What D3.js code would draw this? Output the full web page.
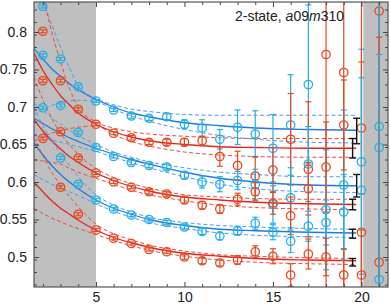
<!DOCTYPE html>
<html>
<head>
<meta charset="utf-8">
<script src="https://cdn.jsdelivr.net/npm/d3@7"></script>
<style>
  body { margin: 0; background: #fff; }
  svg { display: block; font-family: "Liberation Sans", Arial, sans-serif; }
</style>
</head>
<body>
<svg id="chart"></svg>
<script>
// time slices of the data points
const tSlices = [2, 3, 4, 5, 6, 7, 8, 9, 10, 11, 12, 13, 14, 15, 16, 17, 18, 19, 20, 21];

// effective energies, three blue and three red channels (top to bottom)
const blue1 = [0.834, 0.764, 0.727, 0.708, 0.696, 0.688, 0.685, 0.687, 0.677, 0.672, 0.657, 0.673, 0.664, 0.645, 0.676, 0.730, null, null, null, 0.674];
const blue1Err = [0.002, 0.002, 0.002, 0.002, 0.002, 0.003, 0.003, 0.004, 0.006, 0.011, 0.013, 0.023, 0.031, 0.045, 0.067, 0.106, null, null, null, 0.3];
const red1 = [0.801, 0.735, 0.697, 0.677, 0.665, 0.659, 0.653, 0.653, 0.653, 0.655, 0.634, 0.622, 0.608, 0.616, 0.657, 0.617, 0.770, 0.746, 0.672, 0.828];
const red1Err = [0.002, 0.002, 0.002, 0.002, 0.002, 0.003, 0.003, 0.004, 0.005, 0.006, 0.013, 0.019, 0.026, 0.03, 0.061, 0.09, 0.4, 0.3, 0.088, 0.5];
const blue2 = [0.769, 0.702, 0.666, 0.646, 0.634, 0.626, 0.622, 0.620, 0.609, 0.600, 0.597, 0.602, 0.597, 0.570, 0.579, 0.624, 0.563, 0.596, 0.627, 0.646];
const blue2Err = [0.002, 0.002, 0.002, 0.002, 0.002, 0.003, 0.003, 0.004, 0.005, 0.008, 0.010, 0.012, 0.02, 0.025, 0.04, 0.05, 0.08, 0.1, 0.15, 0.35];
const red2 = [0.735, 0.667, 0.632, 0.612, 0.600, 0.593, 0.587, 0.584, 0.576, 0.569, 0.564, 0.577, 0.587, 0.572, 0.555, 0.591, 0.620, 0.676, 0.533, 0.493];
const red2Err = [0.002, 0.002, 0.002, 0.002, 0.002, 0.002, 0.003, 0.003, 0.004, 0.005, 0.006, 0.008, 0.012, 0.015, 0.025, 0.035, 0.06, 0.06, 0.4, 0.3];
const blue3 = [0.699, 0.632, 0.597, 0.576, 0.564, 0.556, 0.550, 0.546, 0.540, 0.534, 0.528, 0.535, 0.545, 0.533, 0.521, 0.541, 0.546, 0.560, 0.589, 0.470];
const blue3Err = [0.002, 0.002, 0.002, 0.002, 0.002, 0.002, 0.002, 0.003, 0.003, 0.004, 0.005, 0.006, 0.008, 0.01, 0.015, 0.02, 0.03, 0.05, 0.15, 0.3];
const red3 = [0.658, 0.593, 0.557, 0.536, 0.525, 0.518, 0.510, 0.507, 0.500, 0.495, 0.492, 0.496, 0.507, 0.501, 0.476, 0.504, 0.500, 0.476, 0.476, null];
const red3Err = [0.002, 0.002, 0.002, 0.002, 0.002, 0.002, 0.002, 0.002, 0.003, 0.004, 0.004, 0.006, 0.008, 0.01, 0.015, 0.02, 0.025, 0.035, 0.06, null];

// 2-state fit curves, sampled
const fitT = [1.5, 2, 2.5, 3, 3.5, 4, 5, 6, 7, 8, 10, 12, 14, 17, 19.7];
const blue1Fit = [0.778, 0.764, 0.751, 0.741, 0.731, 0.723, 0.710, 0.700, 0.692, 0.687, 0.679, 0.675, 0.672, 0.670, 0.669];
const blue1Hi = [0.900, 0.845, 0.810, 0.780, 0.752, 0.728, 0.711, 0.703, 0.697, 0.694, 0.690, 0.689, 0.689, 0.689, 0.689];
const blue1Lo = [0.690, 0.697, 0.702, 0.706, 0.708, 0.709, 0.707, 0.697, 0.688, 0.681, 0.670, 0.662, 0.657, 0.653, 0.652];
const red1Fit = [0.772, 0.749, 0.731, 0.715, 0.703, 0.692, 0.677, 0.667, 0.660, 0.655, 0.650, 0.647, 0.646, 0.645, 0.645];
const red1Hi = [0.920, 0.850, 0.800, 0.760, 0.725, 0.700, 0.680, 0.672, 0.667, 0.664, 0.661, 0.659, 0.658, 0.658, 0.658];
const red1Lo = [0.654, 0.660, 0.665, 0.668, 0.671, 0.673, 0.675, 0.663, 0.654, 0.648, 0.640, 0.636, 0.634, 0.633, 0.633];
const blue2Fit = [0.685, 0.678, 0.671, 0.665, 0.659, 0.654, 0.645, 0.637, 0.630, 0.624, 0.613, 0.605, 0.600, 0.596, 0.595];
const blue2Hi = [0.705, 0.695, 0.686, 0.677, 0.669, 0.662, 0.650, 0.640, 0.633, 0.627, 0.619, 0.613, 0.610, 0.607, 0.607];
const blue2Lo = [0.662, 0.659, 0.656, 0.653, 0.650, 0.647, 0.641, 0.633, 0.626, 0.619, 0.607, 0.597, 0.591, 0.587, 0.586];
const red2Fit = [0.683, 0.668, 0.655, 0.644, 0.634, 0.626, 0.612, 0.602, 0.594, 0.588, 0.580, 0.576, 0.573, 0.571, 0.570];
const red2Hi = [0.740, 0.710, 0.685, 0.665, 0.650, 0.637, 0.618, 0.606, 0.598, 0.592, 0.583, 0.580, 0.578, 0.577, 0.577];
const red2Lo = [0.630, 0.628, 0.626, 0.624, 0.618, 0.613, 0.605, 0.597, 0.589, 0.583, 0.575, 0.569, 0.566, 0.564, 0.563];
const blue3Fit = [0.652, 0.636, 0.622, 0.610, 0.600, 0.591, 0.576, 0.565, 0.557, 0.550, 0.542, 0.537, 0.535, 0.533, 0.532];
const blue3Hi = [0.700, 0.675, 0.655, 0.638, 0.622, 0.607, 0.583, 0.569, 0.560, 0.553, 0.546, 0.542, 0.540, 0.538, 0.537];
const blue3Lo = [0.610, 0.603, 0.597, 0.592, 0.587, 0.582, 0.571, 0.561, 0.553, 0.546, 0.538, 0.532, 0.529, 0.527, 0.526];
const red3Fit = [0.600, 0.587, 0.575, 0.565, 0.557, 0.549, 0.536, 0.526, 0.519, 0.513, 0.505, 0.501, 0.498, 0.496, 0.495];
const red3Hi = [0.660, 0.635, 0.613, 0.596, 0.581, 0.567, 0.544, 0.531, 0.523, 0.516, 0.508, 0.503, 0.501, 0.499, 0.498];
const red3Lo = [0.565, 0.558, 0.552, 0.547, 0.542, 0.538, 0.530, 0.522, 0.515, 0.509, 0.501, 0.496, 0.493, 0.491, 0.490];

// ground state energies from the fit (black bars)
const groundT = [19.73, 19.5, 19.73, 19.5, 19.5, 19.5];
const groundE = [0.668, 0.645, 0.595, 0.570, 0.531, 0.493];
const groundErr = [0.017, 0.013, 0.015, 0.007, 0.006, 0.005];

const xTicks = [5, 10, 15, 20];
const yTicks = [0.5, 0.55, 0.6, 0.65, 0.7, 0.75, 0.8];

const width = 390;
const height = 305;
const mLeft = 34, mRight = 388, mTop = 2, mBottom = 287;

const BLUE = "#22b0e6", RED = "#e9481d";
const BLUE_FIT = "#1f78e8", RED_FIT = "#e8221c";
const BLUE_DASH = "#4b9cf0", RED_DASH = "#ef4a3c";

const x = d3.scaleLinear().domain([1.5, 21.5]).range([mLeft, mRight]);
const y = d3.scaleLinear().domain([0.46, 0.84]).range([mBottom, mTop]);

const svg = d3.select("#chart").attr("width", width).attr("height", height);

svg.append("defs").append("clipPath").attr("id", "clip")
  .append("rect")
  .attr("x", mLeft).attr("y", mTop)
  .attr("width", mRight - mLeft).attr("height", mBottom - mTop);

const plot = svg.append("g").attr("clip-path", "url(#clip)");

// excluded regions
plot.append("rect")
  .attr("x", x(1.5)).attr("y", mTop)
  .attr("width", x(5) - x(1.5)).attr("height", mBottom - mTop)
  .attr("fill", "#bfbfbf");
plot.append("rect")
  .attr("x", x(20.1)).attr("y", mTop)
  .attr("width", x(21.5) - x(20.1)).attr("height", mBottom - mTop)
  .attr("fill", "#bfbfbf");

const series = [
  { v: blue1, e: blue1Err, fit: blue1Fit, hi: blue1Hi, lo: blue1Lo, c: BLUE, fc: BLUE_FIT, dc: BLUE_DASH },
  { v: red1, e: red1Err, fit: red1Fit, hi: red1Hi, lo: red1Lo, c: RED, fc: RED_FIT, dc: RED_DASH },
  { v: blue2, e: blue2Err, fit: blue2Fit, hi: blue2Hi, lo: blue2Lo, c: BLUE, fc: BLUE_FIT, dc: BLUE_DASH },
  { v: red2, e: red2Err, fit: red2Fit, hi: red2Hi, lo: red2Lo, c: RED, fc: RED_FIT, dc: RED_DASH },
  { v: blue3, e: blue3Err, fit: blue3Fit, hi: blue3Hi, lo: blue3Lo, c: BLUE, fc: BLUE_FIT, dc: BLUE_DASH },
  { v: red3, e: red3Err, fit: red3Fit, hi: red3Hi, lo: red3Lo, c: RED, fc: RED_FIT, dc: RED_DASH }
];

const line = d3.line()
  .x((d, i) => x(fitT[i]))
  .y((d) => y(d))
  .curve(d3.curveMonotoneX);

// fit bands and central curves
series.forEach((s) => {
  [s.hi, s.lo].forEach((band) => {
    plot.append("path")
      .attr("d", line(band))
      .attr("fill", "none")
      .attr("stroke", s.dc)
      .attr("stroke-width", 1)
      .attr("stroke-dasharray", "4,2.5");
  });
  plot.append("path")
    .attr("d", line(s.fit))
    .attr("fill", "none")
    .attr("stroke", s.fc)
    .attr("stroke-width", 1.3);
});

// data points with error bars
series.forEach((s) => {
  const pts = tSlices.map((t, i) => ({ t: t, v: s.v[i], e: s.e[i] }))
    .filter((d) => d.v != null);
  const g = plot.append("g").attr("stroke", s.c).attr("fill", "none");
  g.selectAll(".bar").data(pts).enter().append("line")
    .attr("x1", (d) => x(d.t)).attr("x2", (d) => x(d.t))
    .attr("y1", (d) => y(d.v - d.e)).attr("y2", (d) => y(d.v + d.e))
    .attr("stroke-width", 1.2);
  [-1, 1].forEach((sign) => {
    g.selectAll(".cap" + sign).data(pts).enter().append("line")
      .attr("x1", (d) => x(d.t) - 3).attr("x2", (d) => x(d.t) + 3)
      .attr("y1", (d) => y(d.v + sign * d.e)).attr("y2", (d) => y(d.v + sign * d.e))
      .attr("stroke-width", 1.2);
  });
  g.selectAll("circle").data(pts).enter().append("circle")
    .attr("cx", (d) => x(d.t)).attr("cy", (d) => y(d.v))
    .attr("r", 4.2)
    .attr("stroke-width", 1.3);
});

// ground state bars
const gs = groundE.map((e, i) => ({ t: groundT[i], v: e, e: groundErr[i] }));
const gb = plot.append("g").attr("stroke", "#111").attr("stroke-width", 1.4);
gb.selectAll(".v").data(gs).enter().append("line")
  .attr("x1", (d) => x(d.t)).attr("x2", (d) => x(d.t))
  .attr("y1", (d) => y(d.v - d.e)).attr("y2", (d) => y(d.v + d.e));
[-1, 1].forEach((sign) => {
  gb.selectAll(".c" + sign).data(gs).enter().append("line")
    .attr("x1", (d) => x(d.t) - 3.5).attr("x2", (d) => x(d.t) + 3.5)
    .attr("y1", (d) => y(d.v + sign * d.e)).attr("y2", (d) => y(d.v + sign * d.e));
});

// axes: ticks point inward on all four sides
const xMinor = [2, 3, 4, 6, 7, 8, 9, 11, 12, 13, 14, 16, 17, 18, 19, 21];
const yMinor = d3.range(0, 23).map((i) => 0.4633 + i * (0.05 / 3));

function styleAxis(g) {
  g.select(".domain").remove();
  g.selectAll(".tick line").attr("stroke", "#444");
  g.selectAll(".tick text").attr("fill", "#222").attr("font-size", 14)
    .attr("font-family", "'Liberation Sans', Arial, sans-serif");
}

svg.append("g").attr("transform", `translate(0,${mBottom})`)
  .call(d3.axisBottom(x).tickValues(xTicks).tickSize(-5).tickPadding(5).tickFormat(d3.format("d")))
  .call(styleAxis);
svg.append("g").attr("transform", `translate(0,${mBottom})`)
  .call(d3.axisBottom(x).tickValues(xMinor).tickSize(-3).tickFormat(""))
  .call(styleAxis);
svg.append("g").attr("transform", `translate(0,${mTop})`)
  .call(d3.axisTop(x).tickValues(xTicks).tickSize(-5).tickFormat(""))
  .call(styleAxis);
svg.append("g").attr("transform", `translate(0,${mTop})`)
  .call(d3.axisTop(x).tickValues(xMinor).tickSize(-3).tickFormat(""))
  .call(styleAxis);

svg.append("g").attr("transform", `translate(${mLeft},0)`)
  .call(d3.axisLeft(y).tickValues(yTicks).tickSize(-5).tickPadding(7).tickFormat((d) => String(+d.toFixed(2))))
  .call(styleAxis);
svg.append("g").attr("transform", `translate(${mLeft},0)`)
  .call(d3.axisLeft(y).tickValues(yMinor).tickSize(-3).tickFormat(""))
  .call(styleAxis);
svg.append("g").attr("transform", `translate(${mRight},0)`)
  .call(d3.axisRight(y).tickValues(yTicks).tickSize(-5).tickFormat(""))
  .call(styleAxis);
svg.append("g").attr("transform", `translate(${mRight},0)`)
  .call(d3.axisRight(y).tickValues(yMinor).tickSize(-3).tickFormat(""))
  .call(styleAxis);

// frame
svg.append("rect")
  .attr("x", mLeft).attr("y", mTop)
  .attr("width", mRight - mLeft).attr("height", mBottom - mTop)
  .attr("fill", "none").attr("stroke", "#555").attr("stroke-width", 1.2);

// label
const label = svg.append("text")
  .attr("x", 235).attr("y", 21)
  .attr("font-size", 14).attr("fill", "#222");
label.append("tspan").text("2-state, ");
label.append("tspan").attr("font-style", "italic").text("a");
label.append("tspan").text("09");
label.append("tspan").attr("font-style", "italic").text("m");
label.append("tspan").text("310");
</script>
</body>
</html>
